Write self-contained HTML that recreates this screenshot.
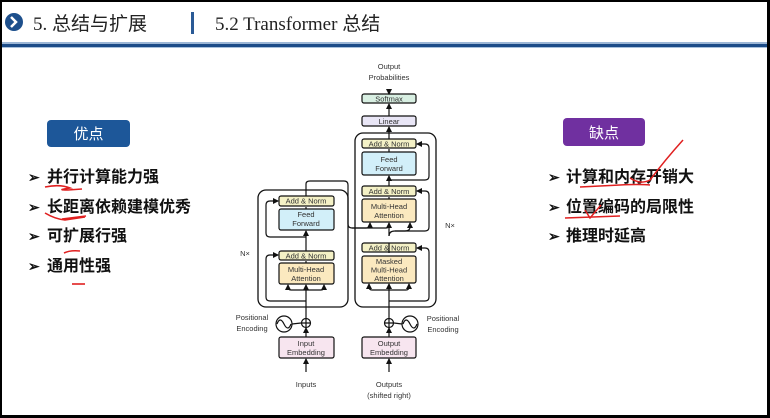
<!DOCTYPE html>
<html><head><meta charset="utf-8"><style>
html,body{margin:0;padding:0;background:#000;}
svg{display:block}
text{font-family:"Liberation Sans","Noto Sans CJK SC",sans-serif;}
</style></head><body>
<svg width="770" height="418" viewBox="0 0 770 418" xmlns="http://www.w3.org/2000/svg">
<defs>
<marker id="a" markerWidth="6" markerHeight="6" refX="5" refY="3" orient="auto" markerUnits="userSpaceOnUse"><path d="M0,0 L6,3 L0,6 z" fill="#111"/></marker>
</defs>
<rect x="2" y="2" width="765" height="413" fill="#fff"/>
<!-- header -->
<circle cx="14" cy="22" r="9" fill="#1d4f8c"/>
<path d="M11,17 L16,22 L11,27" stroke="#fff" stroke-width="2.5" fill="none"/>
<text x="33" y="30" font-size="19" fill="#222" style="font-family:'Liberation Serif','Noto Sans CJK SC',serif">5. 总结与扩展</text>
<rect x="191" y="12" width="3" height="22" fill="#2a5a96"/>
<text x="215" y="30" font-size="19" fill="#222" style="font-family:'Liberation Serif','Noto Sans CJK SC',serif">5.2 Transformer 总结</text>
<rect x="2" y="42" width="765" height="2" fill="#9db7d6"/>
<rect x="2" y="44" width="765" height="3" fill="#1c4c88"/>
<rect x="2" y="47" width="765" height="1" fill="#a9c1dc"/>

<!-- left panel -->
<rect x="47" y="120" width="83" height="27" rx="4" fill="#1d5799"/>
<text x="88.5" y="139" font-size="15" fill="#fff" text-anchor="middle">优点</text>
<g font-size="16" fill="#111" font-weight="bold">
<text x="28" y="182" font-size="14">➢</text><text x="47" y="182">并行计算能力强</text>
<text x="28" y="212" font-size="14">➢</text><text x="47" y="212">长距离依赖建模优秀</text>
<text x="28" y="241" font-size="14">➢</text><text x="47" y="241">可扩展行强</text>
<text x="28" y="271" font-size="14">➢</text><text x="47" y="271">通用性强</text>
</g>
<g stroke="#e02020" stroke-width="1.6" fill="none">
<path d="M45,187 Q60,184 70,188 Q55,190 68,190 L82,189"/>
<path d="M45,213 Q55,219 65,220 L85,217 L62,219 L86,216"/>
<path d="M64,253 Q70,250 80,251"/>
<path d="M72,284 L85,284"/>
</g>

<!-- right panel -->
<rect x="563" y="118" width="82" height="28" rx="4" fill="#7030a0"/>
<text x="604" y="138" font-size="15" fill="#fff" text-anchor="middle">缺点</text>
<g font-size="16" fill="#111" font-weight="bold">
<text x="548" y="182" font-size="14">➢</text><text x="566" y="182">计算和内存开销大</text>
<text x="548" y="212" font-size="14">➢</text><text x="566" y="212">位置编码的局限性</text>
<text x="548" y="241" font-size="14">➢</text><text x="566" y="241">推理时延高</text>
</g>
<g stroke="#e02020" stroke-width="1.5" fill="none">
<path d="M580,187 Q600,186 620,185 Q640,184 650,185"/>
<path d="M630,178 Q640,185 650,180 Q665,160 683,140"/>
<path d="M565,218 Q590,217 620,216"/>
<path d="M585,210 L590,218 L601,205"/>
</g>

<!-- diagram -->
<g font-size="7.5" fill="#333" text-anchor="middle">
<text x="389" y="69">Output</text>
<text x="389" y="80">Probabilities</text>
</g>
<g stroke="#111" stroke-width="1.3" fill="none">
<rect x="258" y="190" width="90" height="117" rx="8"/>
<rect x="355" y="133" width="81" height="174" rx="8"/>
</g>
<g stroke="#111" stroke-width="1.2">
<rect x="362" y="94" width="54" height="9" rx="2" fill="#d8efe2"/>
<rect x="362" y="116" width="54" height="10" rx="2" fill="#e9e6f6"/>
<rect x="362" y="139" width="54" height="9" rx="2" fill="#f4f1c6"/>
<rect x="362" y="152" width="54" height="23" rx="2" fill="#d2eff9"/>
<rect x="362" y="186" width="54" height="10" rx="2" fill="#f4f1c6"/>
<rect x="362" y="199" width="54" height="23" rx="2" fill="#fbe9bf"/>
<rect x="362" y="243" width="54" height="9" rx="2" fill="#f4f1c6"/>
<rect x="362" y="256" width="54" height="27" rx="2" fill="#fbe9bf"/>
<rect x="279" y="196" width="55" height="10" rx="2" fill="#f4f1c6"/>
<rect x="279" y="209" width="55" height="21" rx="2" fill="#d2eff9"/>
<rect x="279" y="251" width="55" height="9" rx="2" fill="#f4f1c6"/>
<rect x="279" y="263" width="55" height="21" rx="2" fill="#fbe9bf"/>
<rect x="279" y="337" width="55" height="21" rx="2" fill="#f7e5ef"/>
<rect x="362" y="337" width="54" height="21" rx="2" fill="#f7e5ef"/>
</g>
<g font-size="7.5" fill="#333" text-anchor="middle">
<text x="389" y="101.5">Softmax</text>
<text x="389" y="124">Linear</text>
<text x="389" y="146.5">Add &amp; Norm</text>
<text x="389" y="162">Feed</text><text x="389" y="171">Forward</text>
<text x="389" y="194">Add &amp; Norm</text>
<text x="389" y="209">Multi-Head</text><text x="389" y="218">Attention</text>
<text x="389" y="250.5">Add &amp; Norm</text>
<text x="389" y="264">Masked</text><text x="389" y="272.5">Multi-Head</text><text x="389" y="281">Attention</text>
<text x="306" y="203.5">Add &amp; Norm</text>
<text x="306" y="217">Feed</text><text x="306" y="226">Forward</text>
<text x="306" y="258.5">Add &amp; Norm</text>
<text x="306" y="272">Multi-Head</text><text x="306" y="281">Attention</text>
<text x="306" y="346">Input</text><text x="306" y="355">Embedding</text>
<text x="389" y="346">Output</text><text x="389" y="355">Embedding</text>
<text x="306" y="387">Inputs</text>
<text x="389" y="387">Outputs</text><text x="389" y="398">(shifted right)</text>
<text x="252" y="320">Positional</text><text x="252" y="331">Encoding</text>
<text x="443" y="321">Positional</text><text x="443" y="332">Encoding</text>
<text x="245" y="256">N×</text>
<text x="450" y="228">N×</text>
</g>
<g stroke="#111" stroke-width="1.2" fill="none">
<line x1="389" y1="89" x2="389" y2="94" marker-end="url(#a)"/>
<line x1="389" y1="116" x2="389" y2="104" marker-end="url(#a)"/>
<line x1="389" y1="139" x2="389" y2="127" marker-end="url(#a)"/>
<line x1="389" y1="152" x2="389" y2="149"/>
<line x1="389" y1="186" x2="389" y2="176" marker-end="url(#a)"/>
<line x1="389" y1="199" x2="389" y2="197"/>
<line x1="389" y1="243" x2="389" y2="253"/>
<line x1="389" y1="318" x2="389" y2="284" marker-end="url(#a)"/>
<line x1="389" y1="337" x2="389" y2="328" marker-end="url(#a)"/>
<line x1="389" y1="372" x2="389" y2="359" marker-end="url(#a)"/>
<path d="M389,180 L425,180 Q429,180 429,176 L429,148 Q429,144 425,144 L417,144" marker-end="url(#a)"/>
<path d="M389,236 Q389,231 395,231 L425,231 Q429,231 429,227 L429,195 Q429,191 425,191 L417,191" marker-end="url(#a)"/>
<path d="M389,301 L425,301 Q429,301 429,297 L429,252 Q429,248 425,248 L417,248" marker-end="url(#a)"/>
<path d="M389,290 L372,290 Q369,290 369,287 L369,284" marker-end="url(#a)"/>
<path d="M389,290 L406,290 Q409,290 409,287 L409,284" marker-end="url(#a)"/>
<path d="M389,236 L389,224" />
<path d="M395,231 L405,231 Q410,231 410,227 L410,223" marker-end="url(#a)"/>
<path d="M306,196 L306,184 Q306,181 310,181 L344,181 Q348,181 348,185 L348,224 Q348,228 352,228 L366,228 Q370,228 370,225 L370,223" marker-end="url(#a)"/>
<path d="M352,228 L386,228 Q389,228 389,225 L389,223" marker-end="url(#a)"/>
<line x1="306" y1="209" x2="306" y2="207"/>
<line x1="306" y1="251" x2="306" y2="231" marker-end="url(#a)"/>
<line x1="306" y1="263" x2="306" y2="261"/>
<line x1="306" y1="318" x2="306" y2="285" marker-end="url(#a)"/>
<line x1="306" y1="337" x2="306" y2="328" marker-end="url(#a)"/>
<line x1="306" y1="372" x2="306" y2="359" marker-end="url(#a)"/>
<path d="M306,237 L270,237 Q266,237 266,233 L266,205 Q266,201 270,201 L278,201" marker-end="url(#a)"/>
<path d="M306,301 L270,301 Q266,301 266,297 L266,259 Q266,255 270,255 L278,255" marker-end="url(#a)"/>
<path d="M306,290 L291,290 Q288,290 288,287 L288,285" marker-end="url(#a)"/>
<path d="M306,290 L321,290 Q324,290 324,287 L324,285" marker-end="url(#a)"/>
<circle cx="306" cy="323" r="4.5" fill="#fff"/>
<path d="M301.5,323 H310.5 M306,318.5 V327.5"/>
<circle cx="284" cy="324" r="8"/>
<path d="M277,324 Q280,316 284,324 Q288,332 291,324"/>
<line x1="292" y1="324" x2="301" y2="323"/>
<circle cx="389" cy="323" r="4.5" fill="#fff"/>
<path d="M384.5,323 H393.5 M389,318.5 V327.5"/>
<circle cx="410" cy="324" r="8"/>
<path d="M403,324 Q406,316 410,324 Q414,332 417,324"/>
<line x1="394" y1="323" x2="402" y2="324"/>
</g>
</svg>
</body></html>
